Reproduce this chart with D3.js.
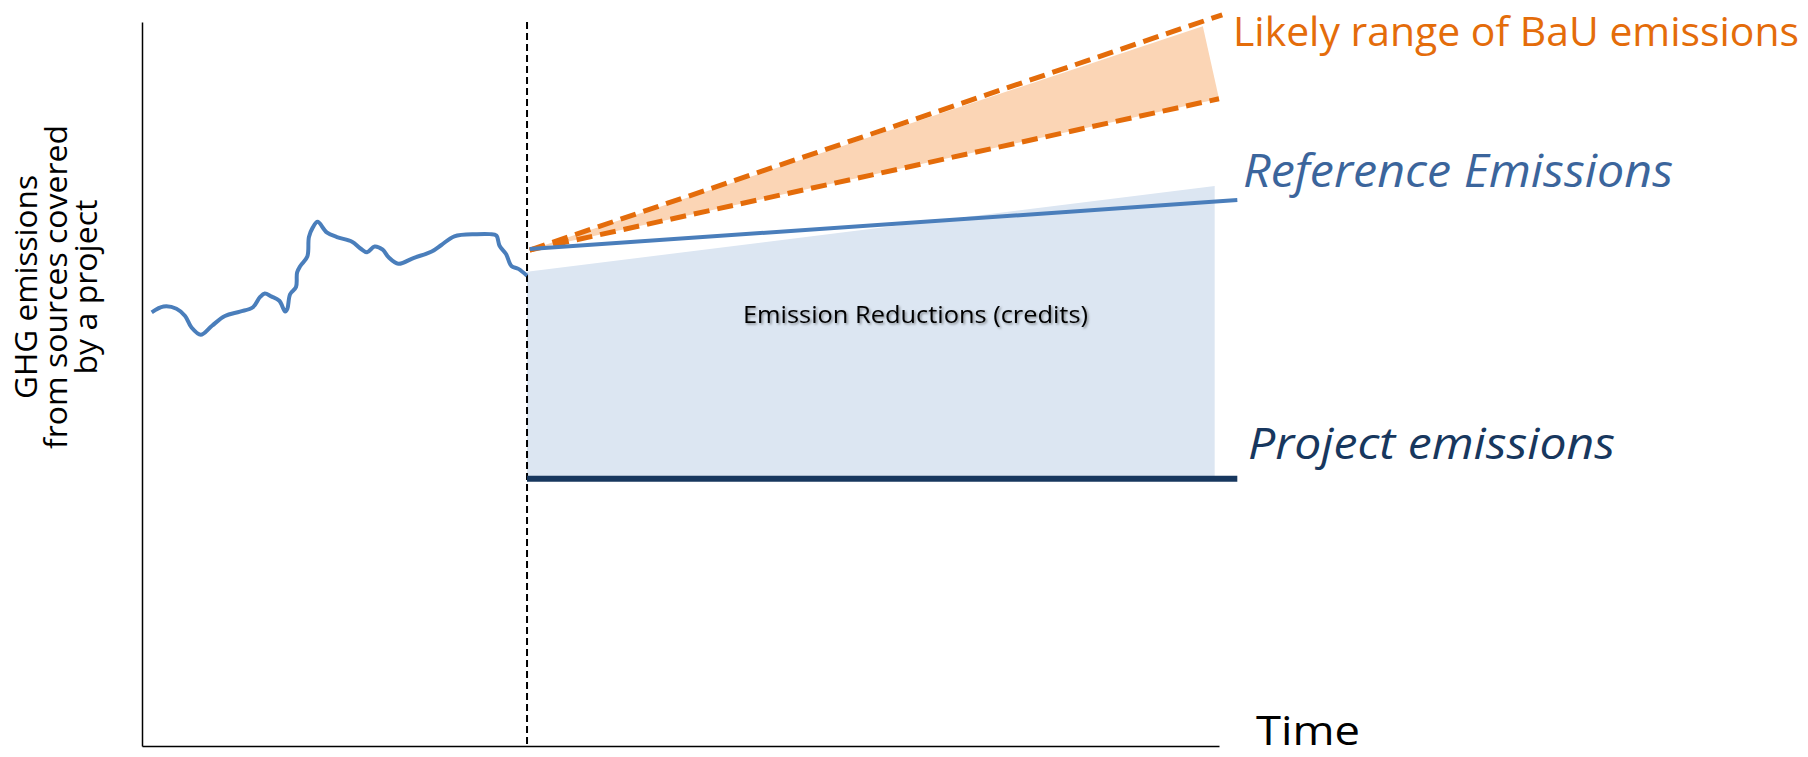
<!DOCTYPE html>
<html>
<head>
<meta charset="utf-8">
<script src="https://cdn.jsdelivr.net/npm/d3@7"></script>
<style>
  body { margin: 0; background: #fff; }
  text { font-family: "Open Sans", sans-serif; }
</style>
</head>
<body>
<svg width="1808" height="757"></svg>
<script>
// time runs 0..100 along the axis, emissions 0..100 up the axis
var projectStart = 35.75;

var pastEmissions = [
  [0.9, 59.9], [2.0, 60.7], [3.2, 60.4], [4.0, 59.4], [4.6, 57.8], [5.45, 56.8],
  [6.5, 58.05], [7.7, 59.4], [9.1, 60.0], [10.3, 60.6], [10.95, 62.0], [11.4, 62.5],
  [12.0, 62.1], [12.75, 61.5], [13.3, 60.0], [13.5, 60.4], [13.75, 62.4], [14.3, 63.4],
  [14.4, 65.4], [14.7, 66.3], [15.35, 67.6], [15.5, 70.3], [15.85, 71.6], [16.3, 72.4],
  [17.15, 70.95], [18.1, 70.3], [19.5, 69.65], [20.25, 68.75], [20.9, 68.2], [21.6, 69.0],
  [22.35, 68.55], [22.9, 67.5], [23.8, 66.6], [25.2, 67.4], [26.9, 68.3], [27.8, 69.2],
  [29.0, 70.4], [31.1, 70.7], [32.3, 70.7], [32.9, 70.5], [33.2, 69.1], [33.8, 67.95],
  [34.3, 66.3], [34.95, 65.9], [35.75, 64.95]
];

var referenceLine = [[36.0, 68.65], [101.7, 75.4]];
var projectLine = [[projectStart, 36.9], [101.7, 36.9]];
var creditsTop = [[projectStart, 65.5], [99.6, 77.35]];
var bauUpper = [[36.0, 68.5], [100.3, 101.0]];
var bauLower = [[36.0, 68.5], [100.0, 89.4]];
var bauFillTop = [[36.0, 68.5], [98.5, 99.4]];

var yLabelLines = ["GHG emissions", "from sources covered", "by a project"];

var svg = d3.select("svg");

var x = d3.scaleLinear().domain([0, 100]).range([142, 1219]);
var y = d3.scaleLinear().domain([0, 100]).range([746, 22]);

var line = d3.line()
    .x(function(d) { return x(d[0]); })
    .y(function(d) { return y(d[1]); });

var smoothLine = d3.line()
    .x(function(d) { return x(d[0]); })
    .y(function(d) { return y(d[1]); })
    .curve(d3.curveCatmullRom.alpha(0.5));

var polygonLine = d3.line()
    .x(function(d) { return x(d[0]); })
    .y(function(d) { return y(d[1]); })
    .curve(d3.curveLinearClosed);

var defs = svg.append("defs");
defs.append("filter")
    .attr("id", "shadow")
    .attr("x", "-10%").attr("y", "-30%")
    .attr("width", "120%").attr("height", "160%")
    .append("feDropShadow")
    .attr("dx", 1.5).attr("dy", 1.5)
    .attr("stdDeviation", 1)
    .attr("flood-color", "#000")
    .attr("flood-opacity", 0.4);

// emission reductions area
var creditsArea = d3.area()
    .x(function(d) { return x(d[0]); })
    .y0(y(projectLine[0][1]))
    .y1(function(d) { return y(d[1]); });

svg.append("path")
    .datum(creditsTop)
    .attr("d", creditsArea)
    .attr("fill", "#dce6f2");

// BaU range fill
svg.append("path")
    .datum(bauFillTop.concat(bauLower.slice().reverse()))
    .attr("d", polygonLine)
    .attr("fill", "#fbd5b5");

// axes
svg.append("g")
    .attr("transform", "translate(" + x(0) + ",0)")
    .call(d3.axisLeft(y).ticks(0).tickSizeOuter(0))
    .select(".domain")
    .attr("stroke", "#000")
    .attr("stroke-width", 1.5);

svg.append("g")
    .attr("transform", "translate(0," + y(0) + ")")
    .call(d3.axisBottom(x).ticks(0).tickSizeOuter(0))
    .select(".domain")
    .attr("stroke", "#000")
    .attr("stroke-width", 1.5);

// project start marker
svg.append("line")
    .attr("x1", x(projectStart)).attr("x2", x(projectStart))
    .attr("y1", y(100)).attr("y2", y(0))
    .attr("stroke", "#000")
    .attr("stroke-width", 2)
    .attr("stroke-dasharray", "7,4");

// BaU dashed bounds
svg.selectAll(".bau")
    .data([bauUpper, bauLower])
    .enter().append("path")
    .attr("class", "bau")
    .attr("d", line)
    .attr("fill", "none")
    .attr("stroke", "#e46c0a")
    .attr("stroke-width", 5)
    .attr("stroke-dasharray", "16,8");

// historical emissions
svg.append("path")
    .datum(pastEmissions)
    .attr("d", smoothLine)
    .attr("fill", "none")
    .attr("stroke", "#4a7ebb")
    .attr("stroke-width", 4)
    .attr("stroke-linejoin", "round");

// reference emissions
svg.append("path")
    .datum(referenceLine)
    .attr("d", line)
    .attr("fill", "none")
    .attr("stroke", "#4a7ebb")
    .attr("stroke-width", 4);

// project emissions
svg.append("path")
    .datum(projectLine)
    .attr("d", line)
    .attr("fill", "none")
    .attr("stroke", "#17375e")
    .attr("stroke-width", 6);

// labels
function label(txt, px, py, size, color, len, italic) {
    return svg.append("text")
        .attr("x", px).attr("y", py)
        .attr("font-size", size)
        .attr("fill", color)
        .attr("font-style", italic ? "italic" : "normal")
        .attr("textLength", len)
        .attr("lengthAdjust", "spacingAndGlyphs")
        .text(txt);
}

label("Likely range of BaU emissions", 1233, 46, 41, "#e46c0a", 566);
label("Reference Emissions", 1243, 187, 46, "#3b659c", 430, true);
label("Project emissions", 1248, 459, 44, "#17375e", 367, true);
label("Emission Reductions (credits)", 743, 323, 24, "#000", 345)
    .attr("filter", "url(#shadow)");
label("Time", 1256, 745, 41, "#000", 104);

var yLabel = svg.append("g")
    .attr("transform", "translate(0,287) rotate(-90)");
var yLens = [224, 324, 175];
yLabel.selectAll("text")
    .data(yLabelLines)
    .enter().append("text")
    .attr("x", 0)
    .attr("y", function(d, i) { return 37 + i * 30; })
    .attr("text-anchor", "middle")
    .attr("font-size", 31)
    .attr("fill", "#000")
    .attr("textLength", function(d, i) { return yLens[i]; })
    .attr("lengthAdjust", "spacingAndGlyphs")
    .text(function(d) { return d; });
</script>
</body>
</html>
